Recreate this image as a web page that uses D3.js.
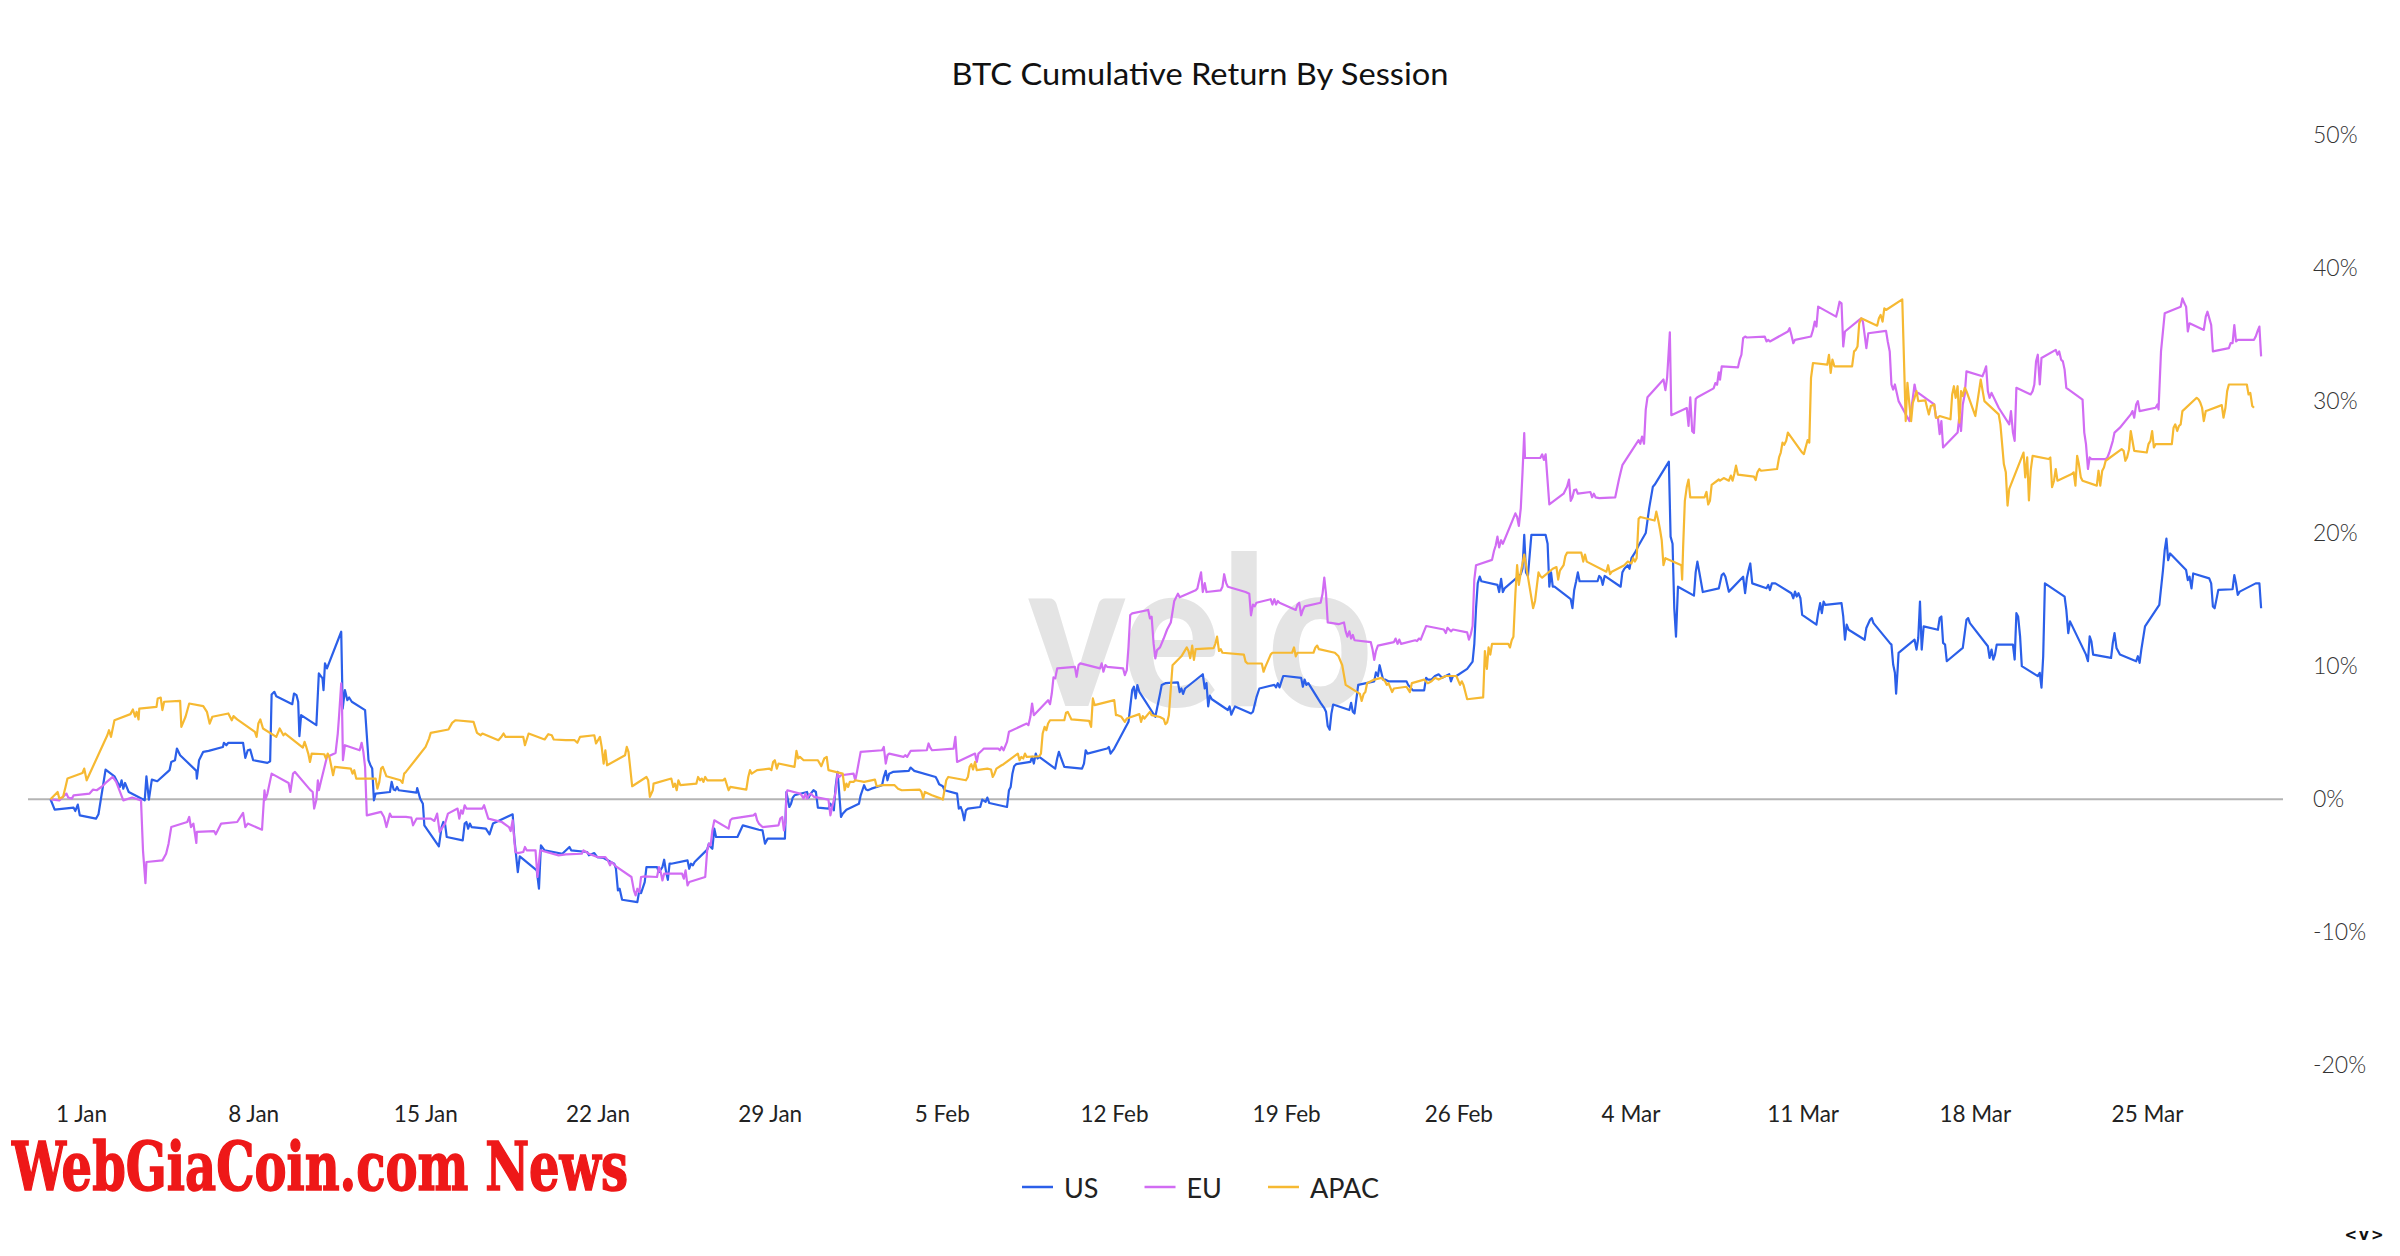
<!DOCTYPE html>
<html>
<head>
<meta charset="utf-8">
<script src="https://cdn.jsdelivr.net/npm/d3@7"></script>
<style>
  html, body { margin: 0; padding: 0; background: #ffffff; }
  svg { display: block; }
</style>
</head>
<body>
<svg id="chart" width="2400" height="1256"></svg>
<script>
// ---------------- DATA ----------------
const chartTitle = "BTC Cumulative Return By Session";
const baseDate = "2024-01-01";              // day offsets below are days after this date
const seriesNames = ["US", "EU", "APAC"];
const seriesColors = ["#2b5fe9", "#d16cf3", "#f6b932"];

const xTickDates = ["2024-01-01","2024-01-08","2024-01-15","2024-01-22","2024-01-29","2024-02-05",
  "2024-02-12","2024-02-19","2024-02-26","2024-03-04","2024-03-11","2024-03-18","2024-03-25"];
const xTickLabels = ["1 Jan","8 Jan","15 Jan","22 Jan","29 Jan","5 Feb","12 Feb","19 Feb",
  "26 Feb","4 Mar","11 Mar","18 Mar","25 Mar"];
const yTicks = [-20, -10, 0, 10, 20, 30, 40, 50];
const yTickLabels = ["-20%","-10%","0%","10%","20%","30%","40%","50%"];

// [days after 1 Jan, cumulative return %]
const usData = [[-1.24,0],[-1.07,-0.78],[-0.30,-0.63],[-0.23,-0.88],[-0.13,-0.40],[-0.05,-1.21],[0.61,-1.46],[0.71,-1.13],[1.00,2.24],[1.36,1.73],[1.58,0.93],[1.65,1.43],[1.72,0.80],[1.79,1.23],[1.94,0.55],[2.59,-0.08],[2.66,1.73],[2.76,-0.03],[2.88,1.48],[3.10,1.36],[3.60,2.19],[3.67,2.81],[3.82,2.94],[3.90,3.82],[4.03,3.32],[4.69,2.14],[4.71,1.56],[4.80,2.94],[4.97,3.57],[5.19,3.64],[5.77,3.94],[5.81,4.25],[5.91,4.07],[5.99,4.25],[6.59,4.25],[6.68,3.12],[6.78,3.69],[6.88,3.74],[7.00,2.94],[7.58,2.74],[7.69,2.86],[7.75,7.89],[7.86,8.09],[7.94,7.76],[8.59,7.16],[8.66,7.96],[8.76,7.84],[8.83,7.34],[8.88,4.75],[8.95,6.33],[9.57,5.58],[9.67,9.47],[9.82,9.10],[9.86,8.22],[9.92,10.23],[10.00,9.85],[10.58,12.61],[10.64,6.83],[10.73,8.22],[10.83,7.46],[10.90,7.66],[11.01,7.34],[11.55,6.71],[11.69,2.94],[11.77,2.56],[11.84,2.31],[11.91,-0.08],[11.98,0.43],[12.56,0.55],[12.63,1.31],[12.71,0.73],[12.78,0.68],[12.85,0.93],[12.92,0.68],[13.64,0.50],[13.67,0.85],[13.79,0.05],[13.90,-0.33],[13.96,-1.96],[14.55,-3.54],[14.66,-2.09],[14.73,-1.71],[14.80,-1.83],[14.87,-2.84],[15.52,-3.09],[15.60,-1.83],[15.67,-1.71],[15.74,-2.21],[15.81,-1.83],[15.88,-2.09],[16.46,-2.21],[16.61,-2.64],[16.75,-1.83],[17.55,-1.13],[17.62,-2.96],[17.76,-5.48],[17.84,-4.30],[18.53,-5.35],[18.62,-6.73],[18.70,-3.47],[18.85,-3.84],[19.57,-4.10],[19.86,-3.59],[19.93,-3.84],[20.58,-3.97],[20.65,-4.22],[20.87,-4.05],[20.99,-4.35],
[21.25,-4.42],[21.54,-4.72],[21.68,-4.85],[21.75,-5.23],[21.83,-6.86],[21.90,-6.73],[22.00,-7.56],[22.62,-7.74],[22.70,-6.86],[22.77,-7.06],[22.92,-6.23],[22.99,-5.10],[23.42,-5.10],[23.50,-5.48],[23.64,-5.10],[23.71,-4.55],[23.79,-5.48],[23.86,-6.06],[23.93,-4.85],[24.00,-4.85],[24.66,-4.60],[24.73,-5.23],[24.80,-4.85],[24.88,-4.97],[24.95,-4.72],[25.46,-3.79],[25.53,-3.34],[25.60,-3.59],[25.67,-3.72],[25.75,-2.21],[25.82,-2.84],[26.69,-2.84],[26.91,-1.96],[27.56,-2.29],[27.71,-2.34],[27.81,-3.34],[27.92,-2.96],[28.62,-2.96],[28.68,0.55],[28.80,-0.58],[28.87,-0.33],[28.94,0.13],[29.01,0.30],[29.52,0.55],[29.59,0.13],[29.67,0.43],[29.78,0.68],[29.88,0.55],[29.96,-0.63],[30.39,-0.70],[30.47,-0.33],[30.54,-0.58],[30.61,-0.83],[30.68,0.93],[30.76,2.06],[30.83,0.43],[30.90,-1.33],[30.97,-1.08],[31.12,-0.78],[31.63,-0.33],[31.70,0.30],[31.77,0.68],[31.84,1.06],[31.92,0.73],[31.99,0.68],[32.14,0.80],[32.57,1.06],[32.64,1.68],[32.72,2.14],[32.79,1.43],[32.86,1.93],[33.01,2.06],[33.66,2.14],[33.73,2.39],[33.88,2.14],[34.75,1.68],[34.82,1.43],[34.89,1.13],[35.04,0.98],[35.11,0.68],[35.62,0.43],[35.69,-0.70],[35.77,-0.58],[35.84,-0.95],[35.91,-1.58],[35.98,-0.83],[36.06,-0.70],[36.56,-0.58],[36.64,-0.03],[36.78,-0.20],[36.85,0.13],[36.93,-0.28],[37.65,-0.58],[37.73,0.68],[37.80,0.93],[37.87,1.93],[37.94,2.49],[38.02,2.64],[38.60,2.81],[38.67,3.19],[38.74,2.69],[38.82,3.44],[38.89,3.07],[38.96,3.19],[39.61,2.31],[39.69,3.07],[39.76,3.57],[39.83,3.19],[39.98,2.44],[40.70,2.31],[40.78,2.69],[40.85,3.69],[40.92,3.44],[41.72,3.82],[41.79,3.94],[41.86,3.44],[42.01,3.82],[42.59,5.83],[42.74,8.22],[42.81,8.47],[42.88,7.59],[42.95,8.59],[43.03,8.09],[43.68,6.21],
[43.87,7.93],[43.94,8.61],[44.09,8.74],[44.60,8.80],[44.67,8.07],[44.74,8.34],[44.81,7.93],[44.89,8.34],[45.61,9.41],[45.69,8.34],[45.76,8.74],[45.83,6.99],[45.90,7.80],[45.98,7.53],[46.63,6.72],[46.70,6.99],[46.77,6.37],[46.85,6.72],[46.92,6.99],[47.57,6.46],[47.65,6.59],[47.79,7.67],[47.91,8.34],[48.52,8.61],[48.59,8.42],[48.66,8.74],[48.73,8.42],[48.88,9.28],[48.95,9.28],[49.61,9.14],[49.68,8.47],[49.75,9.01],[49.82,8.61],[49.90,8.74],[50.40,7.26],[50.55,6.86],[50.62,6.59],[50.69,5.51],[50.77,5.24],[50.84,6.46],[50.91,7.13],[51.57,6.72],[51.64,7.26],[51.71,6.59],[51.78,6.46],[51.93,8.61],[52.58,8.88],[52.65,9.55],[52.73,9.28],[52.80,10.09],[52.87,9.55],[52.94,9.01],[53.02,9.01],[53.16,8.88],[53.53,8.88],[53.89,8.88],[53.96,8.61],[54.03,8.47],[54.15,8.20],[54.61,8.20],[54.69,9.14],[54.76,9.01],[54.91,9.01],[55.05,9.28],[55.20,9.41],[55.34,9.14],[55.63,9.41],[55.70,8.88],[55.78,9.28],[55.92,9.28],[56.36,9.82],[56.58,10.36],[56.65,11.70],[56.72,14.39],[56.79,16.27],[56.87,16.76],[56.94,16.41],[57.59,16.14],[57.66,15.60],[57.74,16.59],[57.81,15.60],[57.88,15.87],[58.54,16.94],[58.61,17.35],[58.68,19.90],[58.75,17.08],[58.83,16.81],[58.97,19.90],[59.55,19.90],[59.63,19.23],[59.70,16.00],[59.77,17.08],[59.84,16.00],[59.91,16.00],[60.57,15.06],[60.64,14.39],[60.71,15.73],[60.79,16.41],[60.86,17.08],[60.93,16.41],[61.66,16.41],[61.73,16.81],[61.80,16.68],[61.87,16.14],[61.95,16.81],[62.60,16.00],[62.67,17.08],[62.75,17.35],[62.89,17.62],[62.96,17.35],[63.04,18.15],[63.18,18.56],[63.33,19.10],[63.62,20.04],[63.76,21.92],[63.91,23.53],[63.98,23.67],[64.56,25.42],[64.63,19.77],[64.71,19.23],[64.78,14.39],[64.85,12.24],[64.93,16.00],[65.58,15.33],[65.65,17.08],[65.72,17.89],[65.80,17.08],[65.94,15.60],[66.59,15.87],
[66.71,16.88],[66.79,17.00],[66.86,16.75],[67.00,15.63],[67.58,16.75],[67.66,15.51],[67.73,16.63],[67.80,17.25],[67.87,17.75],[67.95,16.25],[68.53,15.88],[68.60,16.13],[68.67,15.75],[68.75,16.25],[68.89,16.25],[69.54,15.51],[69.62,15.13],[69.69,15.63],[69.76,15.26],[69.83,15.51],[69.91,15.13],[69.98,13.88],[70.56,13.14],[70.63,14.01],[70.71,14.76],[70.78,14.01],[70.85,14.88],[70.92,14.63],[71.58,14.76],[71.65,13.76],[71.72,12.01],[71.79,13.14],[71.87,12.76],[72.52,12.01],[72.59,12.89],[72.74,13.51],[72.81,13.64],[72.88,13.26],[73.54,11.77],[73.61,11.64],[73.68,10.14],[73.75,9.52],[73.80,7.95],[73.87,10.02],[73.90,11.02],[74.55,12.01],[74.63,11.27],[74.70,12.14],[74.77,14.88],[74.84,11.27],[74.92,13.01],[75.50,12.76],[75.57,13.64],[75.64,13.76],[75.71,11.77],[75.79,11.64],[75.86,10.39],[76.51,11.39],[76.59,12.51],[76.66,13.51],[76.73,13.64],[76.80,13.26],[77.53,11.52],[77.60,10.64],[77.68,11.27],[77.75,10.52],[77.82,10.89],[77.89,11.64],[78.55,11.64],[78.62,10.52],[78.69,14.01],[78.76,13.76],[78.84,12.26],[78.91,10.02],[79.56,9.27],[79.64,9.52],[79.71,8.40],[79.78,10.77],[79.85,16.25],[80.65,15.26],[80.72,14.26],[80.80,12.51],[80.87,13.39],[81.52,10.89],[81.60,10.39],[81.67,12.26],[81.74,11.89],[81.81,10.89],[82.54,10.64],[82.61,11.77],[82.68,12.51],[82.76,11.39],[82.90,10.89],[83.56,10.39],[83.63,10.77],[83.70,10.27],[83.77,11.27],[83.92,13.01],[84.50,14.63],[84.65,17.25],[84.72,18.75],[84.79,19.62],[84.86,17.99],[84.94,18.50],[85.59,17.25],[85.66,16.50],[85.73,16.75],[85.81,15.88],[85.88,17.00],[86.53,16.63],[86.61,16.25],[86.68,14.51],[86.75,14.38],[86.82,15.01],[86.90,15.76],[87.48,15.81],[87.55,16.88],[87.62,16.25],[87.69,15.38],[87.77,15.63],[88.42,16.25],[88.57,16.25],[88.64,14.38]];

const euData = [[-1.24,0],[-0.88,-0.08],[-0.59,0.43],[-0.52,0.13],[-0.37,0.05],[-0.30,0.30],[0.35,0.43],[0.49,0.73],[0.64,0.68],[0.86,0.98],[1.00,1.23],[1.29,1.68],[1.43,1.31],[1.72,-0.08],[2.08,0.13],[2.44,-0.08],[2.52,-3.84],[2.62,-6.31],[2.66,-4.72],[3.31,-4.60],[3.46,-4.10],[3.56,-3.34],[3.67,-2.09],[4.32,-1.71],[4.40,-1.33],[4.47,-2.09],[4.57,-1.83],[4.69,-3.29],[4.71,-2.46],[5.41,-2.39],[5.48,-2.64],[5.70,-1.83],[6.35,-1.71],[6.59,-1.03],[6.68,-2.09],[6.78,-1.83],[7.36,-2.29],[7.46,0.68],[7.50,-0.03],[7.58,0.43],[7.75,1.93],[8.44,1.23],[8.51,0.55],[8.62,1.93],[8.70,2.06],[9.31,0.73],[9.42,0.55],[9.48,-0.70],[9.57,-0.03],[9.63,1.43],[9.67,0.68],[9.74,1.23],[10.00,3.19],[10.35,3.49],[10.44,4.95],[10.49,6.21],[10.58,8.72],[10.61,7.34],[10.65,2.94],[10.73,4.07],[11.33,3.69],[11.41,4.25],[11.48,3.57],[11.55,2.44],[11.62,-1.21],[12.20,-0.95],[12.32,-1.33],[12.42,-2.09],[12.56,-1.08],[12.63,-1.33],[13.21,-1.33],[13.43,-1.38],[13.50,-1.96],[13.64,-1.46],[14.22,-1.46],[14.37,-1.63],[14.48,-1.08],[14.58,-2.46],[14.80,-1.83],[14.92,-1.08],[15.31,-0.70],[15.38,-1.46],[15.45,-0.83],[15.52,-1.08],[15.60,-0.45],[15.67,-0.70],[16.32,-0.70],[16.39,-0.45],[16.56,-1.46],[17.11,-1.71],[17.40,-2.09],[17.47,-2.39],[17.55,-1.58],[17.66,-3.97],[17.76,-4.05],[17.98,-3.97],[18.05,-3.59],[18.12,-3.84],[18.48,-3.84],[18.56,-5.85],[18.67,-3.84],[19.42,-4.22],[19.71,-4.15],[20.36,-4.10],[20.43,-3.84],[20.65,-4.10],[20.99,-4.35],
[21.32,-4.35],[21.42,-4.60],[21.51,-4.97],[21.56,-4.72],[21.65,-4.85],[21.75,-5.05],[22.38,-5.85],[22.48,-6.86],[22.55,-7.24],[22.62,-6.73],[22.70,-6.98],[22.77,-5.85],[22.92,-5.80],[23.42,-5.85],[23.50,-5.10],[23.57,-5.48],[23.64,-6.11],[23.71,-5.60],[24.44,-5.60],[24.51,-5.98],[24.58,-5.35],[24.66,-6.48],[24.73,-6.23],[25.38,-5.85],[25.46,-3.84],[25.53,-3.34],[25.60,-3.47],[25.67,-2.34],[25.75,-1.58],[26.33,-2.21],[26.40,-1.58],[26.47,-1.46],[27.34,-1.21],[27.42,-1.08],[27.49,-1.58],[27.56,-1.83],[27.71,-2.09],[28.36,-1.96],[28.43,-1.46],[28.51,-1.33],[28.58,-2.34],[28.65,-1.58],[28.68,0.43],[28.72,0.68],[29.23,0.43],[29.30,0.30],[29.38,0.05],[29.45,0.43],[29.52,0.05],[29.59,0.30],[29.67,0.43],[29.74,0.30],[29.81,0.18],[30.39,-0.03],[30.47,-1.21],[30.54,-0.58],[30.61,-0.08],[30.68,0.55],[30.76,1.93],[30.83,1.68],[30.90,1.81],[31.41,1.93],[31.48,1.43],[31.55,2.06],[31.70,3.57],[32.57,3.69],[32.64,3.94],[32.72,2.69],[32.79,3.32],[32.86,3.44],[33.44,3.19],[33.51,3.32],[33.59,3.19],[33.73,3.64],[34.39,3.69],[34.46,4.20],[34.53,3.89],[34.60,3.69],[35.48,3.82],[35.55,4.70],[35.62,2.81],[36.35,3.44],[36.42,2.81],[36.49,3.44],[36.64,3.69],[36.71,3.82],[37.29,3.82],[37.36,3.69],[37.43,3.94],[37.51,3.69],[37.65,4.32],[37.73,5.08],[38.45,5.70],[38.52,5.58],[38.60,6.21],[38.67,7.21],[38.74,6.33],[39.32,7.46],[39.40,7.16],[39.47,7.96],[39.54,9.17],[39.61,9.10],[39.69,9.85],[40.41,9.97],[40.48,9.22],[40.56,10.10],[40.63,10.23],[41.43,9.85],[41.50,10.23],[41.57,9.60],[41.65,10.10],[41.72,9.97],[42.37,9.85],[42.44,9.35],[42.52,9.72],[42.59,11.48],[42.66,13.87],[42.74,13.99],[43.39,14.25],[43.46,13.62],[43.53,13.74],[43.61,11.73],[43.68,10.60],[43.75,11.23],
[43.87,11.43],[44.02,12.10],[44.16,12.78],[44.31,13.31],[44.45,14.93],[44.60,15.47],[44.67,15.20],[45.32,15.73],[45.39,15.87],[45.47,16.54],[45.54,17.08],[45.61,15.60],[45.69,16.27],[45.76,15.60],[46.34,15.73],[46.41,16.00],[46.48,16.94],[46.56,16.27],[46.63,16.00],[47.35,15.60],[47.50,15.47],[47.57,13.85],[47.65,14.66],[47.72,14.52],[47.79,14.79],[48.37,15.06],[48.44,14.66],[48.52,15.06],[48.59,14.66],[48.66,14.93],[48.73,14.79],[49.39,14.25],[49.46,14.66],[49.53,14.79],[49.61,13.85],[49.68,14.25],[49.75,14.52],[50.40,14.79],[50.48,15.47],[50.55,16.68],[50.62,15.47],[50.69,13.31],[51.13,13.18],[51.35,13.31],[51.42,12.64],[51.49,12.24],[51.57,12.64],[51.64,12.10],[51.71,12.37],[51.78,11.97],[52.44,11.83],[52.51,11.30],[52.58,10.49],[52.65,11.16],[52.73,11.57],[53.38,11.83],[53.45,12.10],[53.53,11.70],[53.60,12.02],[53.67,11.70],[54.25,11.97],[54.32,11.91],[54.40,12.10],[54.47,12.02],[54.69,13.04],[55.41,12.78],[55.49,12.51],[55.56,12.91],[55.63,12.78],[55.70,12.64],[55.78,12.78],[56.36,12.56],[56.43,12.02],[56.50,12.37],[56.58,13.04],[56.65,16.54],[56.72,17.62],[57.37,18.02],[57.45,18.69],[57.52,19.10],[57.59,19.77],[57.66,18.96],[57.74,19.50],[57.81,19.23],[58.32,21.52],[58.39,21.25],[58.46,20.58],[58.54,21.92],[58.61,24.61],[58.68,27.57],[58.71,25.69],[59.33,25.69],[59.41,25.96],[59.48,25.55],[59.55,25.96],[59.70,22.19],[60.28,23.00],[60.42,23.53],[60.50,24.07],[60.57,22.46],[60.64,22.73],[60.71,23.27],[60.79,23.32],[60.86,23.00],[61.37,23.13],[61.44,22.73],[61.51,23.00],[61.58,22.73],[61.73,22.67],[62.38,22.73],[62.53,24.07],[62.60,24.61],[62.67,25.15],[63.33,27.03],[63.40,26.76],[63.47,27.30],[63.55,26.76],[63.62,29.32],[63.69,30.26],[64.34,31.60],[64.42,30.80],[64.49,31.74],[64.60,35.15],[64.66,28.91],[65.29,29.45],[65.36,28.11],[65.43,30.26],[65.51,27.70],[65.58,27.57],[65.65,30.12],[65.72,30.26],[66.38,30.93],[66.45,31.33],[66.52,31.20],[66.59,32.14],
[66.64,31.59],[66.71,32.59],[67.37,32.51],[67.44,33.09],[67.51,33.46],[67.58,34.71],[67.66,34.83],[67.73,34.76],[68.46,34.83],[68.53,34.46],[68.60,34.58],[68.67,34.46],[69.40,35.21],[69.47,35.46],[69.54,34.96],[69.62,34.33],[69.69,34.58],[70.34,34.83],[70.42,35.33],[70.49,35.95],[70.56,35.58],[70.63,37.08],[71.36,36.33],[71.43,36.83],[71.50,37.45],[71.58,37.33],[71.65,34.08],[71.72,35.21],[72.30,36.08],[72.38,36.20],[72.45,35.95],[72.59,33.96],[72.67,35.08],[73.39,35.26],[73.46,34.46],[73.54,33.71],[73.61,31.22],[73.68,30.84],[73.75,31.22],[73.90,29.97],[74.34,28.47],[74.48,30.22],[74.55,31.22],[74.63,30.47],[74.70,30.59],[75.35,29.72],[75.42,28.72],[75.50,28.72],[75.57,27.48],[75.64,28.47],[75.71,26.48],[76.30,27.60],[76.37,28.85],[76.44,27.72],[76.51,29.72],[76.59,30.47],[76.66,32.21],[77.31,31.84],[77.39,32.21],[77.46,32.59],[77.53,30.72],[77.60,30.22],[77.68,30.59],[77.97,29.47],[78.40,28.22],[78.47,29.22],[78.55,27.60],[78.62,26.98],[78.69,30.97],[79.27,30.47],[79.35,30.72],[79.42,31.22],[79.49,32.96],[79.56,33.46],[79.64,31.22],[79.71,33.21],[80.29,33.83],[80.36,33.46],[80.43,33.71],[80.51,33.09],[80.58,32.96],[80.65,32.34],[80.72,30.97],[81.38,30.09],[81.45,27.60],[81.52,26.73],[81.60,24.86],[81.67,25.73],[81.74,25.61],[82.32,25.61],[82.39,25.73],[82.47,26.10],[82.61,26.98],[82.68,27.60],[82.90,27.97],[83.34,28.97],[83.41,29.22],[83.48,28.72],[83.56,29.72],[83.63,29.97],[83.70,29.22],[84.35,29.47],[84.43,29.72],[84.47,29.35],[84.57,33.71],[84.72,36.58],[85.37,37.08],[85.44,37.70],[85.52,37.33],[85.59,37.08],[85.66,35.21],[85.73,35.83],[86.31,35.33],[86.39,36.33],[86.46,36.70],[86.61,35.70],[86.68,33.71],[87.33,33.96],[87.40,34.33],[87.48,34.33],[87.55,35.70],[87.62,34.46],[87.69,34.58],[88.35,34.58],[88.42,34.83],[88.49,35.21],[88.57,35.58],[88.64,33.34]];

const apacData = [[-1.24,0],[-0.95,0.55],[-0.88,0.05],[-0.73,0.18],[-0.63,0.93],[-0.55,1.56],[0.06,1.98],[0.13,2.31],[0.23,1.43],[1.07,4.82],[1.14,5.20],[1.22,4.70],[1.36,5.95],[2.01,6.41],[2.11,6.76],[2.20,6.21],[2.26,6.58],[2.34,6.01],[2.37,6.83],[3.07,6.96],[3.12,7.59],[3.24,7.66],[3.31,6.71],[3.38,7.34],[4.03,7.41],[4.08,5.45],[4.25,6.21],[4.40,7.21],[4.97,7.01],[5.12,6.58],[5.23,5.70],[5.34,6.21],[5.99,6.46],[6.13,5.95],[6.20,6.26],[6.35,6.01],[7.07,5.08],[7.14,4.70],[7.21,5.70],[7.29,6.01],[7.40,5.33],[7.94,4.70],[8.08,5.33],[8.23,4.82],[8.30,4.95],[9.02,3.89],[9.09,4.32],[9.16,3.94],[9.24,3.44],[9.31,2.81],[9.38,3.44],[9.89,3.39],[9.96,3.07],[10.03,3.44],[10.10,3.19],[10.25,1.81],[10.32,2.44],[10.97,2.31],[11.04,1.93],[11.11,2.19],[11.19,1.56],[11.98,1.56],[12.05,0.80],[12.13,1.31],[12.20,2.31],[12.27,2.44],[12.42,1.73],[12.99,1.43],[13.07,1.23],[13.14,1.93],[13.21,2.06],[13.64,3.07],[14.01,3.94],[14.15,4.57],[14.22,5.00],[14.94,5.25],[15.09,5.75],[15.23,5.95],[15.96,5.83],[16.10,5.00],[16.25,4.82],[16.32,4.95],[16.97,4.45],[17.11,4.75],[17.18,4.95],[17.26,4.70],[17.98,4.70],[18.05,4.07],[18.20,4.95],[18.85,4.50],[19.00,4.90],[19.14,4.82],[19.22,4.50],[19.71,4.45],[20.07,4.45],[20.18,4.25],[20.29,4.70],[20.87,4.82],[20.94,4.20],
[21.10,4.70],[21.17,3.94],[21.25,2.69],[21.32,3.69],[21.39,2.56],[22.12,3.32],[22.19,3.94],[22.26,3.57],[22.41,0.98],[22.99,1.68],[23.06,1.43],[23.13,0.18],[23.25,0.68],[23.28,1.18],[24.00,1.56],[24.08,0.93],[24.15,1.18],[24.22,0.68],[24.29,1.43],[24.37,1.06],[25.02,1.18],[25.09,1.68],[25.17,1.43],[25.24,1.56],[25.31,1.31],[25.38,1.68],[25.46,1.43],[26.11,1.43],[26.18,1.56],[26.33,0.68],[26.40,0.93],[27.05,0.73],[27.13,1.68],[27.20,2.19],[27.27,1.93],[27.49,2.19],[27.99,2.31],[28.07,2.19],[28.14,2.81],[28.21,2.94],[28.29,2.31],[28.36,2.69],[29.01,2.44],[29.09,3.64],[29.16,3.07],[29.23,3.19],[29.38,2.94],[29.96,2.94],[30.10,2.49],[30.22,3.07],[30.32,3.19],[30.39,2.19],[30.97,1.93],[31.05,0.68],[31.12,1.18],[31.19,0.93],[31.26,1.31],[31.41,1.31],[31.48,1.43],[31.84,1.31],[32.28,1.48],[32.35,0.98],[32.57,1.06],[33.08,1.06],[33.22,0.80],[33.37,0.68],[34.10,0.73],[34.17,0.55],[34.24,0.05],[34.31,0.55],[34.60,0.30],[34.97,0.05],[35.04,-0.03],[35.18,1.43],[35.26,1.68],[35.98,1.43],[36.06,1.68],[36.13,2.44],[36.20,2.64],[36.27,2.24],[36.35,2.81],[36.42,2.19],[36.85,2.31],[37.00,2.24],[37.07,1.68],[37.14,1.93],[37.22,2.31],[37.43,2.56],[37.51,2.64],[38.09,3.44],[38.16,2.94],[38.23,3.19],[38.31,3.07],[38.38,3.44],[38.45,3.19],[38.96,3.24],[39.03,3.44],[39.10,4.95],[39.18,5.45],[39.25,5.20],[39.32,5.70],[39.40,5.95],[39.98,5.95],[40.05,6.51],[40.12,6.58],[40.27,6.01],[40.99,5.90],[41.07,5.45],[41.14,7.59],[41.21,7.09],[42.01,7.46],[42.08,6.33],[42.15,6.33],[42.30,6.21],[42.44,5.83],[42.52,6.08],[43.03,6.41],[43.10,5.83],[43.17,6.26],[43.24,6.08],[43.46,6.58],[43.53,6.33],
[43.87,6.19],[44.02,6.05],[44.09,5.65],[44.16,5.78],[44.23,6.32],[44.31,8.34],[44.38,10.09],[44.74,10.76],[44.96,11.43],[45.03,11.16],[45.10,10.62],[45.18,11.57],[45.25,10.49],[45.32,11.30],[46.05,11.38],[46.12,11.70],[46.19,12.24],[46.27,11.16],[46.34,11.30],[46.41,11.03],[47.28,10.89],[47.35,10.36],[47.43,10.22],[48.01,10.22],[48.08,9.60],[48.15,9.95],[48.37,10.89],[48.44,11.03],[49.24,11.03],[49.32,11.43],[49.39,10.76],[49.46,11.03],[50.11,11.03],[50.19,11.43],[50.26,11.57],[50.33,11.30],[50.98,11.03],[51.13,10.76],[51.28,10.09],[51.42,8.61],[52.00,7.93],[52.07,7.40],[52.15,7.93],[52.22,8.07],[52.29,8.74],[52.58,9.01],[52.87,9.14],[53.02,8.88],[53.09,8.61],[53.16,8.74],[53.31,8.07],[53.38,8.34],[53.89,8.47],[54.03,8.07],[54.11,8.74],[54.61,9.01],[54.76,8.74],[54.91,8.88],[55.05,9.14],[55.20,9.01],[55.34,9.14],[55.49,9.28],[55.92,9.28],[56.07,8.61],[56.14,8.88],[56.21,8.61],[56.36,7.53],[57.01,7.67],[57.08,11.16],[57.16,9.82],[57.23,11.43],[57.30,10.89],[57.37,11.70],[58.03,11.70],[58.10,11.43],[58.17,11.97],[58.24,12.24],[58.32,15.47],[58.39,17.62],[58.46,16.14],[58.54,17.08],[58.68,18.42],[59.04,14.39],[59.12,14.93],[59.26,17.08],[59.33,16.81],[59.41,16.68],[59.84,17.35],[59.99,17.48],[60.06,16.54],[60.13,17.21],[60.28,17.62],[60.35,18.29],[60.42,18.56],[61.00,18.56],[61.08,17.89],[61.15,18.42],[61.22,17.89],[62.02,17.13],[62.09,17.62],[62.17,16.94],[62.24,17.13],[62.75,17.62],[62.89,17.89],[63.04,17.75],[63.11,18.15],[63.18,17.89],[63.25,18.15],[63.33,21.11],[63.40,21.25],[63.98,20.98],[64.05,21.65],[64.13,20.98],[64.20,20.31],[64.27,19.50],[64.34,17.62],[64.42,18.15],[65.07,17.62],[65.10,16.54],[65.14,18.96],[65.21,22.46],[65.29,23.53],[65.36,24.07],[65.43,22.73],[66.01,22.73],[66.09,23.13],[66.16,22.19],[66.23,22.46],[66.30,23.67],[66.59,24.07],
[66.64,23.98],[66.79,24.18],[67.00,23.98],[67.08,24.36],[67.15,23.98],[67.22,24.48],[67.29,25.11],[67.37,24.43],[68.02,24.28],[68.09,24.03],[68.16,24.61],[68.24,24.86],[68.31,24.73],[68.96,24.86],[69.04,25.73],[69.11,26.10],[69.18,26.85],[69.25,26.68],[69.33,26.98],[69.40,27.60],[69.98,26.10],[70.05,25.98],[70.12,26.48],[70.20,27.03],[70.27,26.85],[70.34,31.72],[70.42,32.84],[71.00,32.71],[71.07,33.46],[71.14,32.09],[71.21,33.09],[71.29,32.59],[71.36,32.59],[72.01,32.59],[72.09,33.71],[72.16,33.83],[72.23,34.08],[72.30,35.83],[72.38,36.20],[73.03,35.65],[73.10,36.20],[73.17,36.45],[73.25,35.95],[73.32,36.95],[73.39,36.83],[74.05,37.63],[74.19,28.47],[74.26,31.34],[74.34,29.72],[74.41,28.47],[74.48,29.84],[74.55,30.22],[74.63,30.72],[74.70,29.97],[74.99,30.02],[75.06,29.47],[75.13,28.97],[75.21,29.60],[75.35,29.72],[75.42,28.72],[75.50,28.72],[75.57,28.85],[76.01,28.60],[76.08,30.47],[76.15,31.09],[76.22,30.22],[76.30,31.09],[76.37,28.35],[76.44,30.72],[76.51,30.34],[76.59,30.97],[76.66,30.72],[77.02,28.85],[77.24,31.59],[77.39,29.97],[77.97,28.97],[78.04,28.22],[78.11,26.73],[78.18,25.23],[78.26,24.61],[78.33,22.11],[78.40,23.36],[78.98,26.10],[79.05,24.23],[79.13,25.73],[79.20,22.49],[79.27,24.73],[79.35,25.85],[80.00,25.61],[80.07,25.73],[80.14,23.49],[80.22,23.98],[80.29,24.86],[80.36,23.98],[80.94,24.48],[81.02,24.61],[81.09,23.61],[81.16,25.85],[81.23,25.23],[81.31,24.23],[81.38,23.98],[81.96,23.61],[82.03,24.73],[82.10,23.61],[82.18,24.73],[82.25,24.98],[82.32,25.48],[82.97,26.35],[83.05,26.23],[83.12,25.48],[83.19,25.73],[83.27,26.35],[83.34,27.72],[83.48,26.23],[83.99,26.10],[84.06,26.73],[84.14,26.98],[84.21,27.72],[84.28,26.48],[84.35,26.73],[85.01,26.73],[85.08,27.97],[85.15,28.22],[85.23,27.72],[85.30,28.10],[85.37,28.22],[85.44,29.22],[86.02,30.22],[86.10,30.09],[86.17,29.84],[86.24,29.47],[86.31,28.47],[86.39,29.22],[86.46,29.27],[87.04,29.67],[87.11,28.72],[87.19,29.47],[87.26,30.72],[87.33,31.22],[88.06,31.22],[88.13,30.47],[88.20,30.59],[88.28,29.60],[88.35,29.47]];

const seriesData = [usData, euData, apacData];

// ---------------- LAYOUT ----------------
const DAY = 864e5;
const base = Date.parse(baseDate + "T00:00:00Z");
const toDate = d => new Date(base + d * DAY);

const svg = d3.select("#chart");
const FONT = "Lato, 'Open Sans', sans-serif";

const x = d3.scaleUtc()
  .domain([toDate(-2.155), toDate(89.53)])
  .range([28, 2283]);
const y = d3.scaleLinear().domain([-20, 50]).range([1065, 135]);

// watermark
svg.append("text")
  .attr("x", 1028).attr("y", 706)
  .attr("font-family", FONT).attr("font-weight", 900)
  .attr("font-size", 208)
  .attr("textLength", 345).attr("lengthAdjust", "spacingAndGlyphs")
  .attr("fill", "#e4e4e4")
  .text("velo");

// title
svg.append("text")
  .attr("x", 1200).attr("y", 85)
  .attr("text-anchor", "middle")
  .attr("font-family", FONT).attr("font-size", 31)
  .attr("textLength", 497).attr("lengthAdjust", "spacingAndGlyphs")
  .attr("fill", "#111")
  .text(chartTitle);

// y axis on right (labels only)
const yAxis = d3.axisRight(y).tickValues(yTicks)
  .tickFormat((d, i) => yTickLabels[i]).tickSize(0).tickPadding(0);
const yG = svg.append("g").attr("transform", "translate(2313,0)").call(yAxis);
yG.select(".domain").remove();
yG.selectAll("text")
  .attr("font-family", FONT).attr("font-size", 23)
  .attr("fill", "#333").attr("font-weight", 300);

// x axis labels
const xAxis = d3.axisBottom(x)
  .tickValues(xTickDates.map(s => new Date(Date.parse(s + "T00:00:00Z"))))
  .tickFormat((d, i) => xTickLabels[i]).tickSize(0).tickPadding(0);
const xG = svg.append("g").attr("transform", "translate(0,1106)").call(xAxis);
xG.select(".domain").remove();
xG.selectAll("text")
  .attr("font-family", FONT).attr("font-size", 22.5)
  .attr("fill", "#222");

// zero line
svg.append("line")
  .attr("x1", 28).attr("x2", 2283)
  .attr("y1", y(0)).attr("y2", y(0))
  .attr("stroke", "#b4b4b4").attr("stroke-width", 2);

// lines
const line = d3.line()
  .x(d => x(toDate(d[0])))
  .y(d => y(d[1]))
  .curve(d3.curveLinear);

svg.append("g").selectAll("path")
  .data(seriesData)
  .join("path")
  .attr("d", line)
  .attr("fill", "none")
  .attr("stroke", (d, i) => seriesColors[i])
  .attr("stroke-width", 2.2)
  .attr("stroke-linejoin", "round");

// legend
const legend = svg.append("g").attr("transform", "translate(0,1187)");
let lx = 1022;
seriesNames.forEach((name, i) => {
  const g = legend.append("g").attr("transform", `translate(${lx},0)`);
  g.append("line").attr("x1", 0).attr("x2", 31).attr("y1", 0).attr("y2", 0)
    .attr("stroke", seriesColors[i]).attr("stroke-width", 2.5);
  const t = g.append("text").attr("x", 42).attr("y", 0)
    .attr("dominant-baseline", "central")
    .attr("font-family", FONT).attr("font-size", 27).attr("fill", "#222")
    .text(name);
  lx += 42 + t.node().getComputedTextLength() + 46;
});

// site watermark bottom-left
svg.append("text")
  .attr("x", 12).attr("y", 1190)
  .attr("font-family", "'DejaVu Serif Condensed', 'DejaVu Serif', serif")
  .attr("font-stretch", "condensed")
  .attr("font-weight", 700).attr("font-size", 68)
  .attr("textLength", 616).attr("lengthAdjust", "spacingAndGlyphs")
  .attr("fill", "#ee1818").attr("stroke", "#ee1818").attr("stroke-width", 1.5)
  .text("WebGiaCoin.com News");

// bottom-right mark
svg.append("text")
  .attr("x", 2365).attr("y", 1240)
  .attr("text-anchor", "middle")
  .attr("font-family", "'DejaVu Sans', sans-serif").attr("font-weight", 700)
  .attr("font-size", 15).attr("letter-spacing", 2)
  .attr("fill", "#111")
  .text("<v>");
</script>
</body>
</html>
